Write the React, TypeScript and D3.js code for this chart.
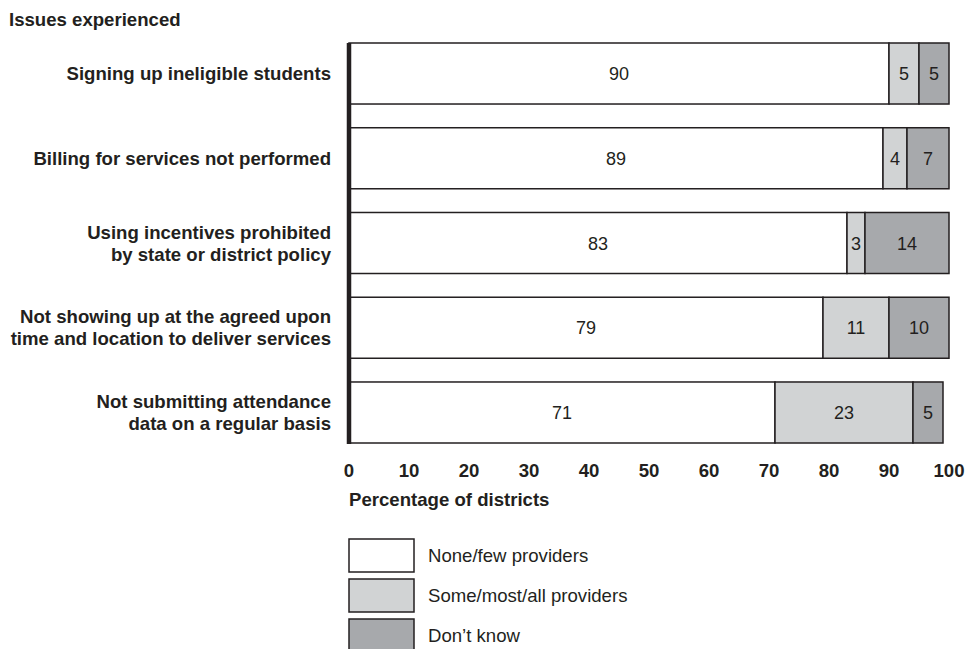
import React from "react";
import { scaleLinear, scaleBand } from "d3";

const categories = [
  ["Signing up ineligible students"],
  ["Billing for services not performed"],
  ["Using incentives prohibited", "by state or district policy"],
  ["Not showing up at the agreed upon", "time and location to deliver services"],
  ["Not submitting attendance", "data on a regular basis"],
];
const noneFew = [90, 89, 83, 79, 71];
const someMostAll = [5, 4, 3, 11, 23];
const dontKnow = [5, 7, 14, 10, 5];
const seriesNames = ["None/few providers", "Some/most/all providers", "Don\u2019t know"];
const seriesColors = ["#ffffff", "#d1d3d4", "#a7a9ac"];
const xTicks = [0, 10, 20, 30, 40, 50, 60, 70, 80, 90, 100];

const W = 967;
const H = 649;
const ink = "#231f20";
const font = "'Liberation Sans', Arial, Helvetica, sans-serif";
const fs = 18;
const fsBold = 18.6;

export default function App() {
  const x = scaleLinear().domain([0, 100]).range([349, 949]);
  const y = scaleBand<number>()
    .domain(categories.map((_, i) => i))
    .range([43, 443])
    .paddingInner(0.28)
    .paddingOuter(0);

  const series = [noneFew, someMostAll, dontKnow];

  return (
    <svg
      width={W}
      height={H}
      style={{ position: "absolute", left: 0, top: 0, background: "#fff" }}
      fontFamily={font}
    >
      <text x={9} y={26} fontSize={fsBold} fontWeight="bold" fill={ink}>
        Issues experienced
      </text>

      {categories.map((lines, i) => {
        const cy = (y(i) ?? 0) + y.bandwidth() / 2;
        const lh = 22;
        const y0 = cy - ((lines.length - 1) * lh) / 2 + 6.5;
        return (
          <text
            key={"c" + i}
            textAnchor="end"
            fontSize={fsBold}
            fontWeight="bold"
            fill={ink}
          >
            {lines.map((l, j) => (
              <tspan key={j} x={331} y={y0 + j * lh}>
                {l}
              </tspan>
            ))}
          </text>
        );
      })}

      {categories.map((_, i) => {
        let acc = 0;
        return series.map((s, k) => {
          const v = s[i];
          const x0 = x(acc);
          acc += v;
          const x1 = x(acc);
          const by = y(i) ?? 0;
          return (
            <g key={"b" + i + "-" + k}>
              <rect
                x={x0}
                y={by}
                width={x1 - x0}
                height={y.bandwidth()}
                fill={seriesColors[k]}
                stroke={ink}
                strokeWidth={1.5}
              />
              <text
                x={(x0 + x1) / 2}
                y={by + y.bandwidth() / 2 + 6.5}
                textAnchor="middle"
                fontSize={fs}
                fill={ink}
              >
                {v}
              </text>
            </g>
          );
        });
      })}

      <line
        x1={x(0)}
        x2={x(0)}
        y1={43}
        y2={444}
        stroke={ink}
        strokeWidth={4.5}
      />

      {xTicks.map((t) => (
        <text
          key={"t" + t}
          x={x(t)}
          y={477}
          textAnchor="middle"
          fontSize={fsBold}
          fontWeight="bold"
          fill={ink}
        >
          {t}
        </text>
      ))}
      <text x={349} y={506} fontSize={fsBold} fontWeight="bold" fill={ink}>
        Percentage of districts
      </text>

      {seriesNames.map((name, k) => {
        const ly = 539 + k * 40;
        return (
          <g key={"l" + k}>
            <rect
              x={349}
              y={ly}
              width={65}
              height={33}
              fill={seriesColors[k]}
              stroke={ink}
              strokeWidth={1.5}
            />
            <text x={428} y={ly + 23} fontSize={fsBold} fill={ink}>
              {name}
            </text>
          </g>
        );
      })}
    </svg>
  );
}
